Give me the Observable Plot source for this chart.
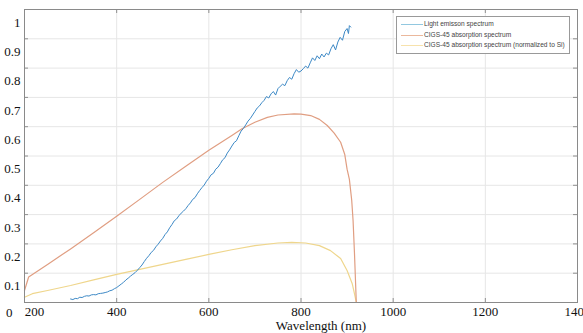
<!DOCTYPE html>
<html>
<head>
<meta charset="utf-8">
<script src="https://cdn.jsdelivr.net/npm/d3@7"></script>
<script src="https://cdn.jsdelivr.net/npm/@observablehq/plot@0.6"></script>
<style>
  html, body { margin: 0; padding: 0; background: #fff; }
  #wrap { position: relative; width: 583px; height: 333px; overflow: hidden; }
  #wrap svg, #wrap svg text, #wrap svg g { font-family: "Liberation Serif", "Times New Roman", Tinos, "DejaVu Serif", serif !important; }
  #legend { position: absolute; left: 396px; top: 16px; width: 174px; height: 38px;
    border: 1px solid #999; background: #fff; box-sizing: border-box;
    font-family: "Liberation Sans", Arial, sans-serif; font-size: 6.6px; color: #444; }
  .row { position: absolute; left: 0; height: 10px; line-height: 10px; white-space: nowrap; }
  .row span.sw { position: absolute; left: 4px; top: 5px; width: 22px; height: 0; border-top: 1.2px solid; }
  .row span.tx { position: absolute; left: 27px; top: 0; }
</style>
</head>
<body>
<div id="wrap"></div>
<script>
// Light emission spectrum (blue)
const blueX = [300,305,310,315,320,325,330,335,340,345,350,355,360,365,370,375,380,385,390,395,
  400,405,410,415,420,425,430,435,440,445,450,455,460,465,470,475,480,485,490,495,
  500,505,510,515,520,525,530,535,540,545,550,555,560,565,570,575,580,585,590,595,
  600,605,610,615,620,625,630,635,640,645,650,655,660,665,670,675,680,685,690,695,
  700,705,710,715,720,725,730,735,740,745,750,755,760,765,770,775,780,785,790,795,
  800,805,810,815,820,825,830,835,840,845,850,855,860,865,870,875,880,885,890,895,
  900,903,905,908];
const blueY = [0.012,0.010,0.014,0.013,0.018,0.017,0.021,0.023,0.022,0.026,0.027,0.026,0.030,0.031,0.032,0.034,0.036,0.040,0.042,0.047,
  0.051,0.057,0.063,0.069,0.077,0.083,0.090,0.096,0.102,0.110,0.119,0.128,0.140,0.151,0.160,0.171,0.178,0.190,0.199,0.210,
  0.219,0.232,0.241,0.255,0.266,0.279,0.285,0.296,0.305,0.312,0.320,0.331,0.340,0.352,0.358,0.371,0.382,0.392,0.401,0.414,
  0.424,0.436,0.441,0.455,0.462,0.474,0.487,0.494,0.510,0.521,0.534,0.546,0.552,0.569,0.585,0.594,0.606,0.619,0.628,0.640,
  0.652,0.664,0.671,0.682,0.690,0.703,0.698,0.712,0.720,0.708,0.730,0.738,0.745,0.740,0.757,0.768,0.762,0.781,0.795,0.786,
  0.790,0.798,0.807,0.800,0.818,0.835,0.826,0.842,0.832,0.848,0.838,0.851,0.845,0.866,0.880,0.862,0.889,0.905,0.895,0.925,
  0.935,0.918,0.945,0.940];

// CIGS-45 absorption spectrum (orange)
const orangeX = [200,209,250,300,350,400,450,500,550,600,650,672,700,727,750,785,800,821,840,857,872,886,895,900,905,910,913,916,920,1300];
const orangeY = [0.041,0.087,0.130,0.183,0.238,0.294,0.352,0.410,0.465,0.520,0.570,0.593,0.615,0.632,0.640,0.644,0.643,0.638,0.625,0.604,0.578,0.547,0.505,0.455,0.420,0.350,0.280,0.170,0.000,0.000];

// CIGS-45 absorption spectrum normalized to Si (yellow)
const yellowX = [200,217,250,300,350,400,450,500,550,600,650,700,750,780,810,840,864,886,900,911,916,920,1300];
const yellowY = [0.018,0.030,0.041,0.058,0.077,0.096,0.113,0.130,0.147,0.164,0.180,0.194,0.203,0.205,0.203,0.194,0.177,0.150,0.109,0.065,0.030,0.000,0.000];

const xTicks = [400,600,800,1000,1200,1400];
const xTickFirst = [200];
const yTicks = [0.1,0.2,0.3,0.4,0.5,0.6,0.7,0.8,0.9,1];
const yTickZero = [0];
const gridXTicks = [400,600,800,1000,1200];
const gridYTicks = [0.1,0.2,0.3,0.4,0.5,0.6,0.7,0.8,0.9];
const seriesNames = ["Light emisson spectrum","CIGS-45 absorption spectrum","CIGS-45 absorption spectrum (normalized to Si)"];
const lineColors = ["#3d89c6","#e09e82","#efd68c"];
const legendColors = ["#92c8e0","#ebb89c","#f7e2ac"];
const xLabel = "Wavelength (nm)";

const blue = blueX.map((x,i)=>({x, y: blueY[i]}));
const orange = orangeX.map((x,i)=>({x, y: orangeY[i]}));
const yellow = yellowX.map((x,i)=>({x, y: yellowY[i]}));

const W = 583, H = 333, mL = 24, mR = 6, mT = 9, mB = 31;
const pw = W - mL - mR, ph = H - mT - mB;
const serif = "Liberation Serif, Times New Roman, DejaVu Serif, serif";

const chart = Plot.plot({
  width: W, height: H,
  marginLeft: mL, marginRight: mR, marginTop: mT, marginBottom: mB,
  x: {domain: [200,1400]},
  y: {domain: [0,1]},
  style: {background: "#fff", overflow: "visible", fontFamily: serif},
  marks: [
    Plot.gridX(gridXTicks, {stroke: "#e6e6e6", strokeOpacity: 1}),
    Plot.gridY(gridYTicks, {stroke: "#e6e6e6", strokeOpacity: 1}),
    Plot.tickY(yTicks.concat(yTickZero), {y: d=>d, insetRight: pw - 4, stroke: "#777", strokeWidth: 0.8}),
    Plot.tickY(yTicks.concat(yTickZero), {y: d=>d, insetLeft: pw - 4, stroke: "#777", strokeWidth: 0.8}),
    Plot.tickX(xTicks.concat(xTickFirst), {x: d=>d, insetTop: ph - 4, stroke: "#777", strokeWidth: 0.8}),
    Plot.tickX(xTicks.concat(xTickFirst), {x: d=>d, insetBottom: ph - 4, stroke: "#777", strokeWidth: 0.8}),
    Plot.line(yellow, {x: "x", y: "y", stroke: lineColors[2], strokeWidth: 1.2}),
    Plot.line(orange, {x: "x", y: "y", stroke: lineColors[1], strokeWidth: 1.2}),
    Plot.line(blue, {x: "x", y: "y", stroke: lineColors[0], strokeWidth: 1.0}),
    Plot.frame({stroke: "#8a8a8a"}),
    Plot.axisX(xTicks, {anchor: "bottom", tickSize: 0, tickPadding: 4, fontSize: 13, fontFamily: serif, fill: "#111", label: null, tickFormat: d=>String(d)}),
    Plot.axisX(xTickFirst, {anchor: "bottom", tickSize: 0, tickPadding: 4, dx: 10, fontSize: 13, fontFamily: serif, fill: "#111", label: null, tickFormat: d=>String(d)}),
    Plot.axisY(yTicks, {anchor: "left", tickSize: 0, tickPadding: 4, dy: 13, fontSize: 13, fontFamily: serif, fill: "#111", label: null, tickFormat: d=>String(d)}),
    Plot.axisY(yTickZero, {anchor: "left", tickSize: 0, tickPadding: 4, dy: 10, dx: -8, fontSize: 13, fontFamily: serif, fill: "#111", label: null, tickFormat: d=>String(d)}),
    Plot.text([xLabel], {frameAnchor: "bottom", dy: 23, dx: 20, fontSize: 13, fontFamily: serif, fill: "#111", lineAnchor: "middle", text: d=>d})
  ]
});

const wrap = document.getElementById("wrap");
wrap.appendChild(chart);
chart.querySelectorAll("text").forEach(t => t.style.setProperty("font-family", "'Liberation Serif', 'Times New Roman', 'DejaVu Serif', serif", "important"));
const lg = document.createElement("div");
lg.id = "legend";
seriesNames.forEach((name, i) => {
  const r = document.createElement("div");
  r.className = "row";
  r.style.top = (2 + i * 10.6) + "px";
  const sw = document.createElement("span");
  sw.className = "sw";
  sw.style.borderTopColor = legendColors[i];
  const tx = document.createElement("span");
  tx.className = "tx";
  tx.textContent = name;
  r.appendChild(sw); r.appendChild(tx);
  lg.appendChild(r);
});
wrap.appendChild(lg);
</script>
</body>
</html>
